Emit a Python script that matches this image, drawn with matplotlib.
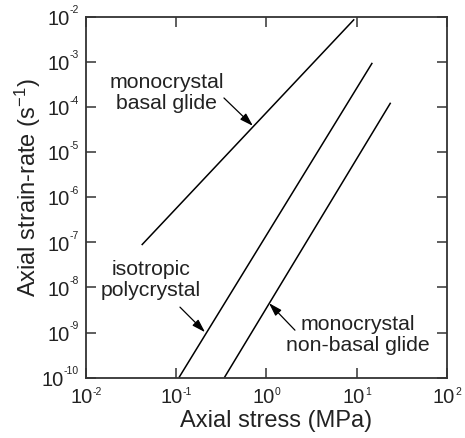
import matplotlib.pyplot as plt
from matplotlib.ticker import FixedLocator, NullLocator, NullFormatter
from matplotlib.transforms import offset_copy

plt.rcParams['font.family'] = ['Liberation Sans', 'DejaVu Sans']
plt.rcParams['axes.unicode_minus'] = False
plt.rcParams['mathtext.fontset'] = 'custom'
plt.rcParams['mathtext.rm'] = 'Liberation Sans'
plt.rcParams['mathtext.it'] = 'Liberation Sans'

# end points of each flow law (stress in MPa, strain-rate in 1/s)
basal_stress = [0.0414, 9.4]
basal_rate = [8.7e-8, 8.75e-3]

iso_stress = [0.107, 14.9]
iso_rate = [1e-10, 9.5e-4]

nonbasal_stress = [0.341, 23.8]
nonbasal_rate = [1e-10, 1.24e-4]

x_exps = [-2, -1, 0, 1, 2]
y_exps = [-10, -9, -8, -7, -6, -5, -4, -3, -2]

fig = plt.figure(figsize=(4.65, 4.38), dpi=100)
ax = fig.add_axes([0.185, 0.1377, 0.776, 0.8242])

for xs, ys in [(basal_stress, basal_rate), (iso_stress, iso_rate),
               (nonbasal_stress, nonbasal_rate)]:
    ax.plot(xs, ys, color='black', lw=1.1, solid_capstyle='butt')

ax.set_xscale('log')
ax.set_yscale('log')
ax.set_xlim(1e-2, 1e2)
ax.set_ylim(1e-10, 1e-2)
ax.xaxis.set_major_locator(FixedLocator([10.0 ** e for e in x_exps]))
ax.yaxis.set_major_locator(FixedLocator([10.0 ** e for e in y_exps]))
ax.xaxis.set_minor_locator(NullLocator())
ax.yaxis.set_minor_locator(NullLocator())
ax.xaxis.set_major_formatter(NullFormatter())
ax.yaxis.set_major_formatter(NullFormatter())
ax.tick_params(which='major', direction='in', length=7, width=1.1,
               top=True, right=True, color='#333333')
for s in ax.spines.values():
    s.set_linewidth(1.3)
    s.set_color('#333333')

# tick labels: "10" with a small raised exponent
tc = '#222222'
base_fs = 14.5
exp_fs = 7.5
renderer = fig.canvas.get_renderer()

for e in x_exps:
    t10 = ax.text(10.0 ** e, 0, '10', fontsize=base_fs, color=tc, ha='right', va='baseline',
                  transform=ax.get_xaxis_transform())
    tex = ax.text(10.0 ** e, 0, str(e), fontsize=exp_fs, color=tc, ha='left', va='baseline',
                  transform=ax.get_xaxis_transform())
    w10 = t10.get_window_extent(renderer).width
    wex = tex.get_window_extent(renderer).width
    dx = (w10 - wex) / 2
    t10.set_transform(offset_copy(ax.get_xaxis_transform(), fig, x=dx, y=-25, units='dots'))
    tex.set_transform(offset_copy(ax.get_xaxis_transform(), fig, x=dx, y=-17.5, units='dots'))

for e in y_exps:
    tex = ax.text(0, 10.0 ** e, str(e), fontsize=exp_fs, color=tc, ha='right', va='baseline',
                  transform=offset_copy(ax.get_yaxis_transform(), fig, x=-7, y=3.4, units='dots'))
    wex = tex.get_window_extent(renderer).width
    ax.text(0, 10.0 ** e, '10', fontsize=base_fs, color=tc, ha='right', va='baseline',
            transform=offset_copy(ax.get_yaxis_transform(), fig, x=-7 - wex, y=-8.3, units='dots'))

ax.set_xlabel('Axial stress (MPa)', fontsize=17, color=tc, va='top')
ax.xaxis.set_label_coords(0.528, -0.09)
ax.set_ylabel('Axial strain-rate (s$^{-1}$)', fontsize=17, color=tc)
ax.yaxis.set_label_coords(-0.118, 0.525)

arrow = dict(arrowstyle='-|>,head_length=0.8,head_width=0.25',
             color='black', lw=0.9, shrinkA=0, shrinkB=0)
label_kw = dict(ha='center', va='center', fontsize=15.3, linespacing=1.15, color=tc)

ax.text(0.0789, 2.04e-4, 'monocrystal\nbasal glide', **label_kw)
ax.annotate('', xy=(0.708, 3.8e-5), xytext=(0.338, 1.58e-4), arrowprops=arrow)

ax.text(0.0525, 1.45e-8, 'isotropic\npolycrystal', **label_kw)
ax.annotate('', xy=(0.2085, 1.02e-9), xytext=(0.110, 3.66e-9), arrowprops=arrow)

ax.text(10.3, 8.75e-10, 'monocrystal\nnon-basal glide', **label_kw)
ax.annotate('', xy=(1.067, 4.49e-9), xytext=(2.07, 1.13e-9), arrowprops=arrow)

fig.savefig('out.png', dpi=100)
